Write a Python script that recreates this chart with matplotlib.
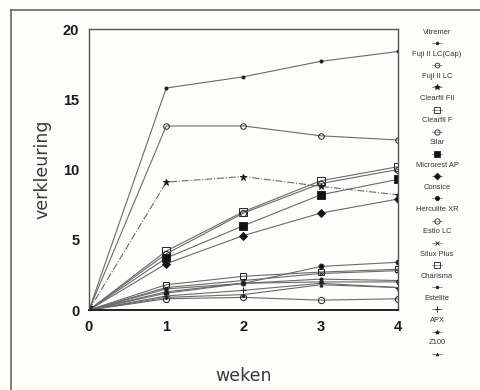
import matplotlib
matplotlib.use("Agg")
import matplotlib.pyplot as plt
from matplotlib.lines import Line2D

weeks = [0, 1, 2, 3, 4]

names = ["Vitremer", "Fuji II LC(Cap)", "Fuji II LC", "Clearfil FII", "Clearfil F",
         "Silar", "Microrest AP", "Consice", "Herculite XR", "Estio LC",
         "Silux Plus", "Charisma", "Estelite", "APX", "Z100"]

vitremer      = [0, 15.8, 16.6, 17.7, 18.4]
fuji_cap      = [0, 13.1, 13.1, 12.4, 12.1]
fuji_lc       = [0, 9.1, 9.5, 8.8, 8.2]
clearfil_fii  = [0, 4.2, 7.0, 9.2, 10.2]
clearfil_f    = [0, 4.0, 6.9, 9.0, 10.0]
silar         = [0, 3.7, 6.0, 8.2, 9.3]
microrest     = [0, 3.3, 5.3, 6.9, 7.9]
consice       = [0, 1.2, 1.9, 3.1, 3.4]
herculite     = [0, 0.8, 0.9, 0.7, 0.8]
estio         = [0, 1.6, 2.1, 2.6, 2.8]
silux         = [0, 1.8, 2.4, 2.7, 2.9]
charisma      = [0, 1.3, 1.9, 2.2, 2.1]
estelite      = [0, 1.0, 1.4, 1.9, 1.6]
apx           = [0, 1.5, 1.9, 2.0, 2.0]
z100          = [0, 0.9, 1.1, 1.8, 1.6]

series = [vitremer, fuji_cap, fuji_lc, clearfil_fii, clearfil_f, silar, microrest,
          consice, herculite, estio, silux, charisma, estelite, apx, z100]

# style per series: marker, size, filled, linestyle
styles = [
    ("o", 2.2, True, "-"),
    ("o", 4.0, False, "-"),
    ("*", 4.5, True, "-."),
    ("s", 5.5, False, "-"),
    ("o", 4.5, False, "-"),
    ("s", 5.5, True, "-"),
    ("D", 4.0, True, "-"),
    ("o", 3.5, True, "-"),
    ("o", 4.5, False, "-"),
    ("x", 3.5, True, "-"),
    ("s", 4.5, False, "-"),
    ("o", 2.2, True, "-"),
    ("+", 4.5, True, "-"),
    ("*", 3.5, True, "-"),
    ("^", 2.2, True, "-"),
]

fig = plt.figure(figsize=(4.81, 3.90), dpi=100)
fig.patch.set_facecolor("#fdfdfb")

ax = fig.add_axes([0.185, 0.2051, 0.6424, 0.7205])
ax.set_facecolor("#fdfdfb")

for vals, (m, ms, filled, ls) in zip(series, styles):
    ax.plot(weeks, vals, linestyle=ls, color="#6a6a6a", linewidth=0.8,
            marker=m, markersize=ms,
            markerfacecolor=("#111111" if filled else "none"),
            markeredgecolor="#222222", markeredgewidth=0.7)

ax.set_xlim(0, 4)
ax.set_ylim(0, 20)
ax.set_xticks([0, 1, 2, 3, 4])
ax.set_yticks([0, 5, 10, 15, 20])
ax.tick_params(length=0, pad=7)
for lbl in ax.get_xticklabels() + ax.get_yticklabels():
    lbl.set_fontfamily("Liberation Sans")
    lbl.set_fontweight("bold")
    lbl.set_fontsize(10.5)
    lbl.set_color("#1a1a1a")
for sp in ax.spines.values():
    sp.set_color("#555555")
    sp.set_linewidth(1.0)
ax.spines["bottom"].set_color("#222222")
ax.spines["bottom"].set_linewidth(1.4)

ax.set_xlabel("weken", fontsize=12.5, color="#3a3a3a", labelpad=24)
ax.set_ylabel("verkleuring", fontsize=12.5, color="#3a3a3a", labelpad=8)

# outer frame lines (top and left)
fig.add_artist(Line2D([0.0229, 1.0], [0.974, 0.974], color="#666666", lw=1.2))
fig.add_artist(Line2D([0.0229, 0.0229], [0.0, 0.974], color="#666666", lw=1.2))

# legend column: label above marker
lax = fig.add_axes([0.83, 0.0, 0.17, 1.0])
lax.set_xlim(0, 1)
lax.set_ylim(390, 0)
lax.axis("off")
for i, (name, (m, ms, filled, ls)) in enumerate(zip(names, styles)):
    y = 32 + i * 22.2
    lax.text(0.463, y, name, ha="center", va="center", fontsize=5.4,
             family="Liberation Sans", color="#333333")
    lax.plot([0.40, 0.526], [y + 11, y + 11], color="#888888", lw=0.6)
    lax.plot([0.463], [y + 11], linestyle="none", marker=m, markersize=ms * 0.85,
             markerfacecolor=("#111111" if filled else "none"),
             markeredgecolor="#222222", markeredgewidth=0.6)

fig.savefig("out.png", dpi=100, facecolor=fig.get_facecolor())
